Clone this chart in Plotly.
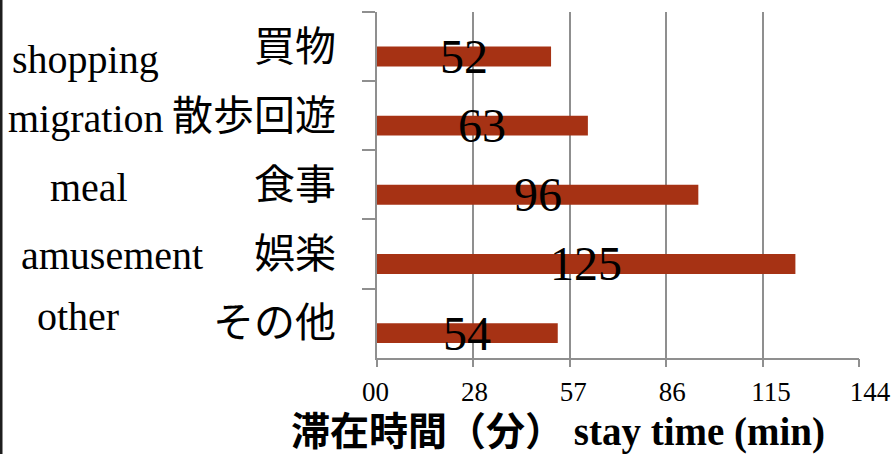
import plotly.graph_objects as go

# Average stay time per activity (minutes)
categories_ja = ["買物", "散歩回遊", "食事", "娯楽", "その他"]
categories_en = ["shopping", "migration", "meal", "amusement", "other"]
stay_minutes = [52, 63, 96, 125, 54]

# x-axis ticks
x_tickvals = [0, 28.8, 57.6, 86.4, 115.2, 144]
x_ticktext = ["00", "28", "57", "86", "115", "144"]

# English label placement (horizontal centre in px, vertical nudge in px)
en_label_x = [85, 85.5, 88.5, 111.5, 77.5]
en_label_shift = [-13, -3, -3, -2, 7]

W, H = 895, 454
SERIF = "Liberation Serif, Times New Roman, serif"
CJK = "Liberation Serif, Noto Sans CJK JP, sans-serif"
BAR = "#A63214"
GRID = "#8f8f8f"

fig = go.Figure()

fig.add_trace(go.Bar(
    x=stay_minutes,
    y=categories_ja,
    orientation="h",
    xaxis="x2",
    yaxis="y2",
    width=0.288,
    offset=0,
    marker=dict(color=BAR, line=dict(width=0)),
    hoverinfo="skip",
    showlegend=False,
))
# empty trace that carries the (slightly wider spaced) tick-label axis
fig.add_trace(go.Scatter(x=[], y=[], xaxis="x3", yaxis="y2",
                         hoverinfo="skip", showlegend=False))

annotations = []
# value labels centred on each bar
for cat, v in zip(categories_ja, stay_minutes):
    annotations.append(dict(
        x=v / 2, y=cat, xref="x2", yref="y2",
        text=str(v), showarrow=False,
        xanchor="center", yanchor="middle", yshift=-10,
        font=dict(family=SERIF, size=48, color="black"),
    ))
# English category names
for cat, en, px, sh in zip(categories_ja, categories_en, en_label_x, en_label_shift):
    annotations.append(dict(
        x=px / W, y=cat, xref="paper", yref="y2",
        text=en, showarrow=False,
        xanchor="center", yanchor="middle", yshift=sh,
        font=dict(family=SERIF, size=40, color="black"),
    ))
# axis title
annotations.append(dict(
    x=557.5 / W, y=1 - 432 / H, xref="paper", yref="paper",
    text="滞在時間（分） stay time (min)", showarrow=False,
    xanchor="center", yanchor="middle",
    font=dict(family=CJK, size=39, color="black", weight="bold"),
))

fig.update_layout(
    width=W, height=H,
    margin=dict(l=0, r=0, t=0, b=0, autoexpand=False),
    paper_bgcolor="white",
    plot_bgcolor="rgba(0,0,0,0)",
    # faint sheet grid behind the chart
    xaxis=dict(domain=[0, 1], range=[0, W], tick0=31.7, dtick=39.6,
               showgrid=True, gridcolor="#f1f1f1", gridwidth=1, automargin=False,
               showticklabels=False, zeroline=False, showline=False, ticks=""),
    yaxis=dict(domain=[0, 1], range=[H, 0], tick0=11.7, dtick=39.7,
               showgrid=True, gridcolor="#f1f1f1", gridwidth=1, automargin=False,
               showticklabels=False, zeroline=False, showline=False, ticks=""),
    xaxis2=dict(
        domain=[377 / W, 859 / W], anchor="y2", automargin=False,
        range=[0, 144], tickmode="array", tickvals=x_tickvals,
        showticklabels=False,
        showgrid=True, gridcolor=GRID, gridwidth=1.5,
        showline=True, linecolor=GRID, linewidth=1.5,
        ticks="outside", ticklen=8, tickcolor=GRID, tickwidth=1.5,
        zeroline=False,
    ),
    xaxis3=dict(
        domain=[375.6 / W, 870 / W], anchor="y2", automargin=False,
        range=[0, 144], tickmode="array",
        tickvals=x_tickvals, ticktext=x_ticktext,
        showgrid=False, showline=False, zeroline=False,
        ticks="outside", ticklen=8, tickcolor="rgba(0,0,0,0)",
        ticklabelstandoff=2,
        tickfont=dict(family=SERIF, size=27, color="black"),
    ),
    yaxis2=dict(
        domain=[1 - 357.7 / H, 1 - 12 / H], anchor="x2", automargin=False,
        type="category", categoryorder="array", categoryarray=categories_ja,
        range=[4.5, -0.5], tickson="boundaries",
        showgrid=False, showline=True, linecolor=GRID, linewidth=1.5,
        ticks="outside", ticklen=13, tickcolor=GRID, tickwidth=1.5,
        ticklabelstandoff=31,
        tickfont=dict(family=CJK, size=41, color="black"),
    ),
    annotations=annotations,
    shapes=[dict(type="rect", xref="paper", yref="paper",
                 x0=0, x1=2.5 / W, y0=0, y1=1,
                 fillcolor="#1e1e1e", line=dict(width=0), layer="above")],
)

fig.write_html("out.html")
